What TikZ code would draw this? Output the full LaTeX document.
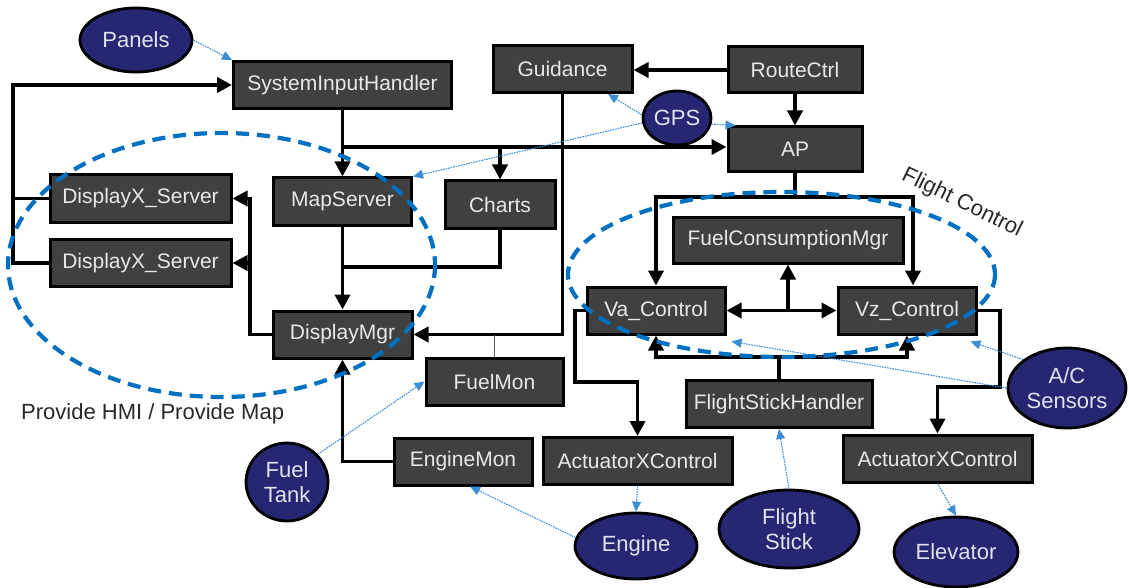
\documentclass[tikz,border=0pt]{standalone}
\usepackage{fontspec}
\setmainfont{Liberation Sans}
\usetikzlibrary{arrows.meta,shapes.geometric,calc}
\definecolor{boxfill}{RGB}{64,64,64}
\definecolor{boxtext}{RGB}{232,232,232}
\definecolor{navy}{RGB}{38,38,115}
\definecolor{ellipsetext}{RGB}{225,225,240}
\definecolor{hmiblue}{RGB}{0,112,192}
\definecolor{sigblue}{RGB}{60,140,215}
\definecolor{labelgray}{RGB}{40,40,40}
\definecolor{thingray}{RGB}{90,90,90}

\begin{document}
\begin{tikzpicture}[x=1pt,y=-1pt,
  comp/.style={draw=black, line width=3pt, fill=boxfill, text=boxtext, inner sep=0pt,
    font=\fontsize{21}{24}\selectfont, minimum height=47pt},
  ext/.style={ellipse, draw=black, line width=2.8pt, fill=navy, text=ellipsetext,
    inner sep=0pt, align=center, font=\fontsize{22}{25}\selectfont},
  flow/.style={line width=3.8pt, -{Triangle[length=15pt,width=15pt]}},
  both/.style={line width=3.8pt, {Triangle[length=15pt,width=15pt]}-{Triangle[length=15pt,width=15pt]}},
  wire/.style={line width=3.8pt},
  tap/.style={draw=thingray, line width=1.2pt},
  signal/.style={draw=sigblue, line width=1.1pt, dash pattern=on 1.6pt off 1pt,
    -{Triangle[length=10pt,width=9pt,fill=sigblue]}},
  groupring/.style={draw=hmiblue, line width=4.2pt, dash pattern=on 13pt off 8pt},
  note/.style={text=labelgray, inner sep=0pt, font=\fontsize{22}{25}\selectfont},
]
\useasboundingbox (0,0) rectangle (1129,588);

% software components
\node[comp, minimum width=218pt] (SIH) at (342.5,85) {SystemInputHandler};
\node[comp, minimum width=139pt] (Guidance) at (562.5,69) {Guidance};
\node[comp, minimum width=134pt, minimum height=46pt] (RouteCtrl) at (795,70) {RouteCtrl};
\node[comp, minimum width=134pt, minimum height=45pt] (AP) at (795,149.5) {AP};
\node[comp, minimum width=181pt] (DX1) at (140.5,198.5) {DisplayX\_Server};
\node[comp, minimum width=181pt] (DX2) at (140.5,263) {DisplayX\_Server};
\node[comp, minimum width=138pt] (MapServer) at (342.5,201.5) {MapServer};
\node[comp, minimum width=110pt] (Charts) at (500,204.5) {Charts};
\node[comp, minimum width=139pt] (DisplayMgr) at (342.5,334.5) {DisplayMgr};
\node[comp, minimum width=137pt] (FuelMon) at (494.5,381.5) {FuelMon};
\node[comp, minimum width=138pt] (EngineMon) at (463,461.5) {EngineMon};
\node[comp, minimum width=189pt] (Act1) at (637.5,461) {ActuatorXControl};
\node[comp, minimum width=186pt] (FSH) at (779,404) {FlightStickHandler};
\node[comp, minimum width=189pt] (Act2) at (937.5,458.5) {ActuatorXControl};
\node[comp, minimum width=230pt, minimum height=46pt] (FCM) at (788,240) {FuelConsumptionMgr};
\node[comp, minimum width=138pt] (Va) at (656,310.5) {Va\_Control};
\node[comp, minimum width=138pt] (Vz) at (907,310.5) {Vz\_Control};

% external devices
\node[ext, minimum width=112pt, minimum height=64pt] (Panels) at (136,40) {Panels};
\node[ext, minimum width=68pt, minimum height=54pt] (GPS) at (677,118) {GPS};
\node[ext, minimum width=82pt, minimum height=78pt] (FuelTank) at (287,482) {Fuel\\Tank};
\node[ext, minimum width=122pt, minimum height=66pt] (Engine) at (636,546) {Engine};
\node[ext, minimum width=140pt, minimum height=78pt] (FlightStick) at (789,529) {Flight\\Stick};
\node[ext, minimum width=124pt, minimum height=70pt] (Elevator) at (956,552) {Elevator};
\node[ext, minimum width=118pt, minimum height=80pt] (ACS) at (1067,388) {A/C\\Sensors};

% bend points of the buses
\coordinate (splitSIH) at (342.5,147);
\coordinate (loopL) at (13,85);
\coordinate (dmBus) at (250,334.5);
\coordinate (mergeMap) at (342.5,267);
\coordinate (apBus) at (795,197);
\coordinate (fshBus) at (778,357);
\coordinate (vaDrop) at (575,382);
\coordinate (vzDrop) at (1000,387);

% control flow
\draw[flow] (SIH.south) -- (MapServer.north);
\draw[flow] (splitSIH) -- (splitSIH -| AP.west);
\draw[flow] (splitSIH -| Charts.north) -- (Charts.north);
\draw[flow] (DX2.west) -| (loopL) -- (SIH.west);
\draw[wire] (DX1.west) -- (DX1.west -| loopL);
\draw[flow] (RouteCtrl.west) -- (RouteCtrl.west -| Guidance.east);
\draw[flow] (RouteCtrl.south) -- (AP.north);
\draw[flow] (Guidance.south) |- (DisplayMgr.east);
\draw[tap] (FuelMon.north) -- (FuelMon.north |- DisplayMgr.east);
\draw[flow] (MapServer.south) -- (DisplayMgr.north);
\draw[wire] (Charts.south) |- (mergeMap);
\draw[flow] (DisplayMgr.west) -- (dmBus) |- (DX1.east);
\draw[flow] (dmBus |- DX2.east) -- (DX2.east);
\draw[flow] (EngineMon.west) -| (DisplayMgr.south);
\draw[wire] (AP.south) -- (apBus);
\draw[flow] (apBus) -| (Va.north);
\draw[flow] (apBus) -| ($(Vz.north)+(6,0)$);
\draw[both] (Va.east) -- (Vz.west);
\draw[flow] (Va.east -| FCM.south) -- (FCM.south);
\draw[wire] (FSH.north) -- (FSH.north |- fshBus);
\draw[flow] (FSH.north |- fshBus) -| (Va.south);
\draw[flow] (FSH.north |- fshBus) -| (Vz.south);
\draw[flow] (Va.west) -| (vaDrop) -| (Act1.north);
\draw[flow] (Vz.east) -| (vzDrop) -| (Act2.north);

% sensor and actuator signals
\draw[signal] (Panels.east) -- (SIH.north west);
\draw[signal] (GPS.175) -- ($(Guidance.south)+(45.5,0)$);
\draw[signal] (GPS.350) -- ($(AP.north west)+(9,0)$);
\draw[signal] (GPS.188) -- (MapServer.north east);
\draw[signal] (FuelTank.42) -- (FuelMon.west);
\draw[signal] (Act1.south) -- (Engine.north);
\draw[signal] (Engine.172) -- ($(EngineMon.south)+(7,0)$);
\draw[signal] (FlightStick.north) -- (FSH.south);
\draw[signal] (Act2.south) -- (Elevator.north);
\draw[signal] (ACS.147) -- ($(Vz.south east)+(-7,6)$);
\draw[signal] (ACS.west) -- ($(Va.south east)+(5,6)$);

% functional groupings
\draw[groupring] (221.5,265) ellipse [x radius=213.5, y radius=132];
\draw[groupring] (781.5,274.5) ellipse [x radius=213.5, y radius=82.5];
\node[note, anchor=west] (hmiNote) at (21,414) {Provide HMI / Provide Map};
\node[note, rotate=-26] (fcNote) at (962,203) {Flight Control};
\end{tikzpicture}
\end{document}
